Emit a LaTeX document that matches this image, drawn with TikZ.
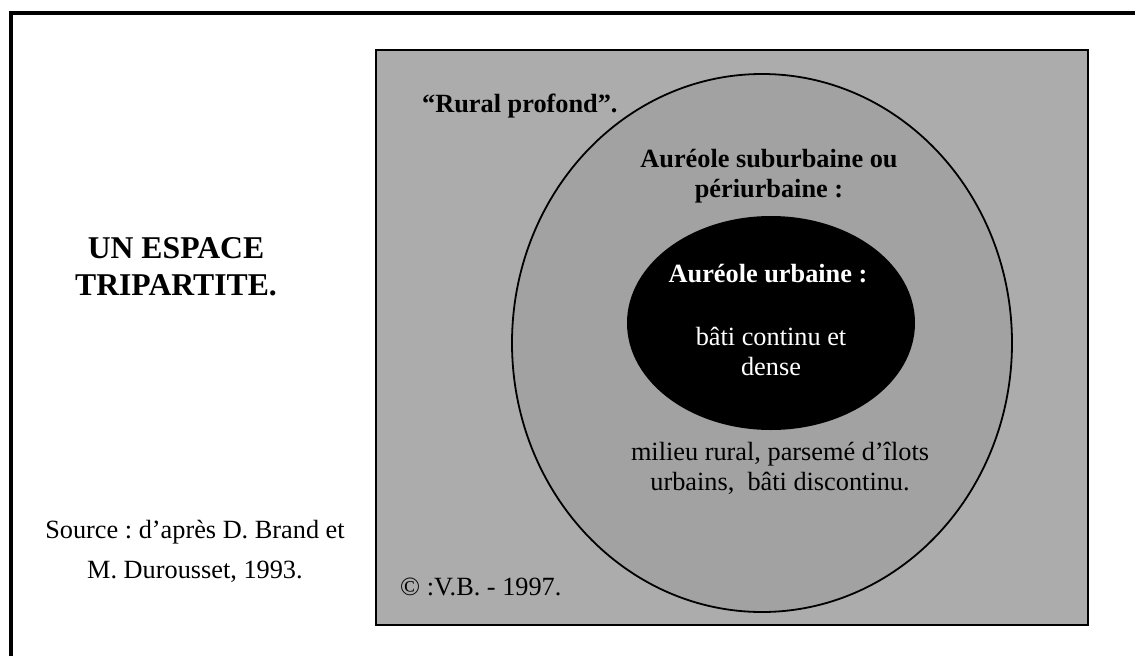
\documentclass[tikz,border=0pt]{standalone}
\usepackage{fontspec}
\setmainfont{Liberation Serif}
\usetikzlibrary{shapes.geometric}
\definecolor{panelgray}{RGB}{172,172,172}
\definecolor{ringgray}{RGB}{162,162,162}
\frenchspacing
\begin{document}
\begin{tikzpicture}[x=1pt,y=-1pt,
  txt/.style={inner sep=0pt, align=center, anchor=base, font=\fontsize{26.3}{30}\selectfont},
  txtb/.style={txt, font=\fontsize{26.3}{30}\selectfont\bfseries},
  titletxt/.style={inner sep=0pt, align=center, anchor=base, font=\fontsize{31.7}{37}\selectfont\bfseries},
  srctxt/.style={inner sep=0pt, align=center, anchor=base, font=\fontsize{26.3}{40}\selectfont}]
\useasboundingbox (0,0) rectangle (1135,656);
\fill[white] (0,0) rectangle (1135,656);
% outer frame (top and left sides visible)
\draw[line width=4pt] (10.5,656) -- (10.5,13) -- (1135,13);
% grey panel
\draw[line width=2pt, fill=panelgray] (376,50) rectangle (1088,625);
% suburban ellipse
\node[draw, line width=1.8pt, fill=ringgray, ellipse, minimum width=500pt, minimum height=538pt, inner sep=0pt] (sub) at (762,343) {};
% urban ellipse
\node[fill=black, ellipse, minimum width=288pt, minimum height=214pt, inner sep=0pt] (urb) at (771,323) {};
% texts (base anchor = baseline of the last line)
\node[titletxt] (title) at (176,295) {UN ESPACE\\TRIPARTITE.};
\node[srctxt] (src) at (195,578) {Source : d’après D. Brand et\\M. Durousset, 1993.};
\node[txtb, anchor=base west] (rural) at (422,112) {“Rural profond”.};
\node[txtb] (subl) at (769,197) {Auréole suburbaine ou\\périurbaine :};
\node[txtb, text=white] (urbl) at (768,282) {Auréole urbaine :};
\node[txt, text=white] (urbd) at (771,375) {bâti continu et\\dense};
\node[txt] (subd) at (780,490) {milieu rural, parsemé d’îlots\\urbains,\ \ bâti discontinu.};
\node[txt, anchor=base west] (copy) at (400,595) {© :V.B. - 1997.};
\end{tikzpicture}
\end{document}
